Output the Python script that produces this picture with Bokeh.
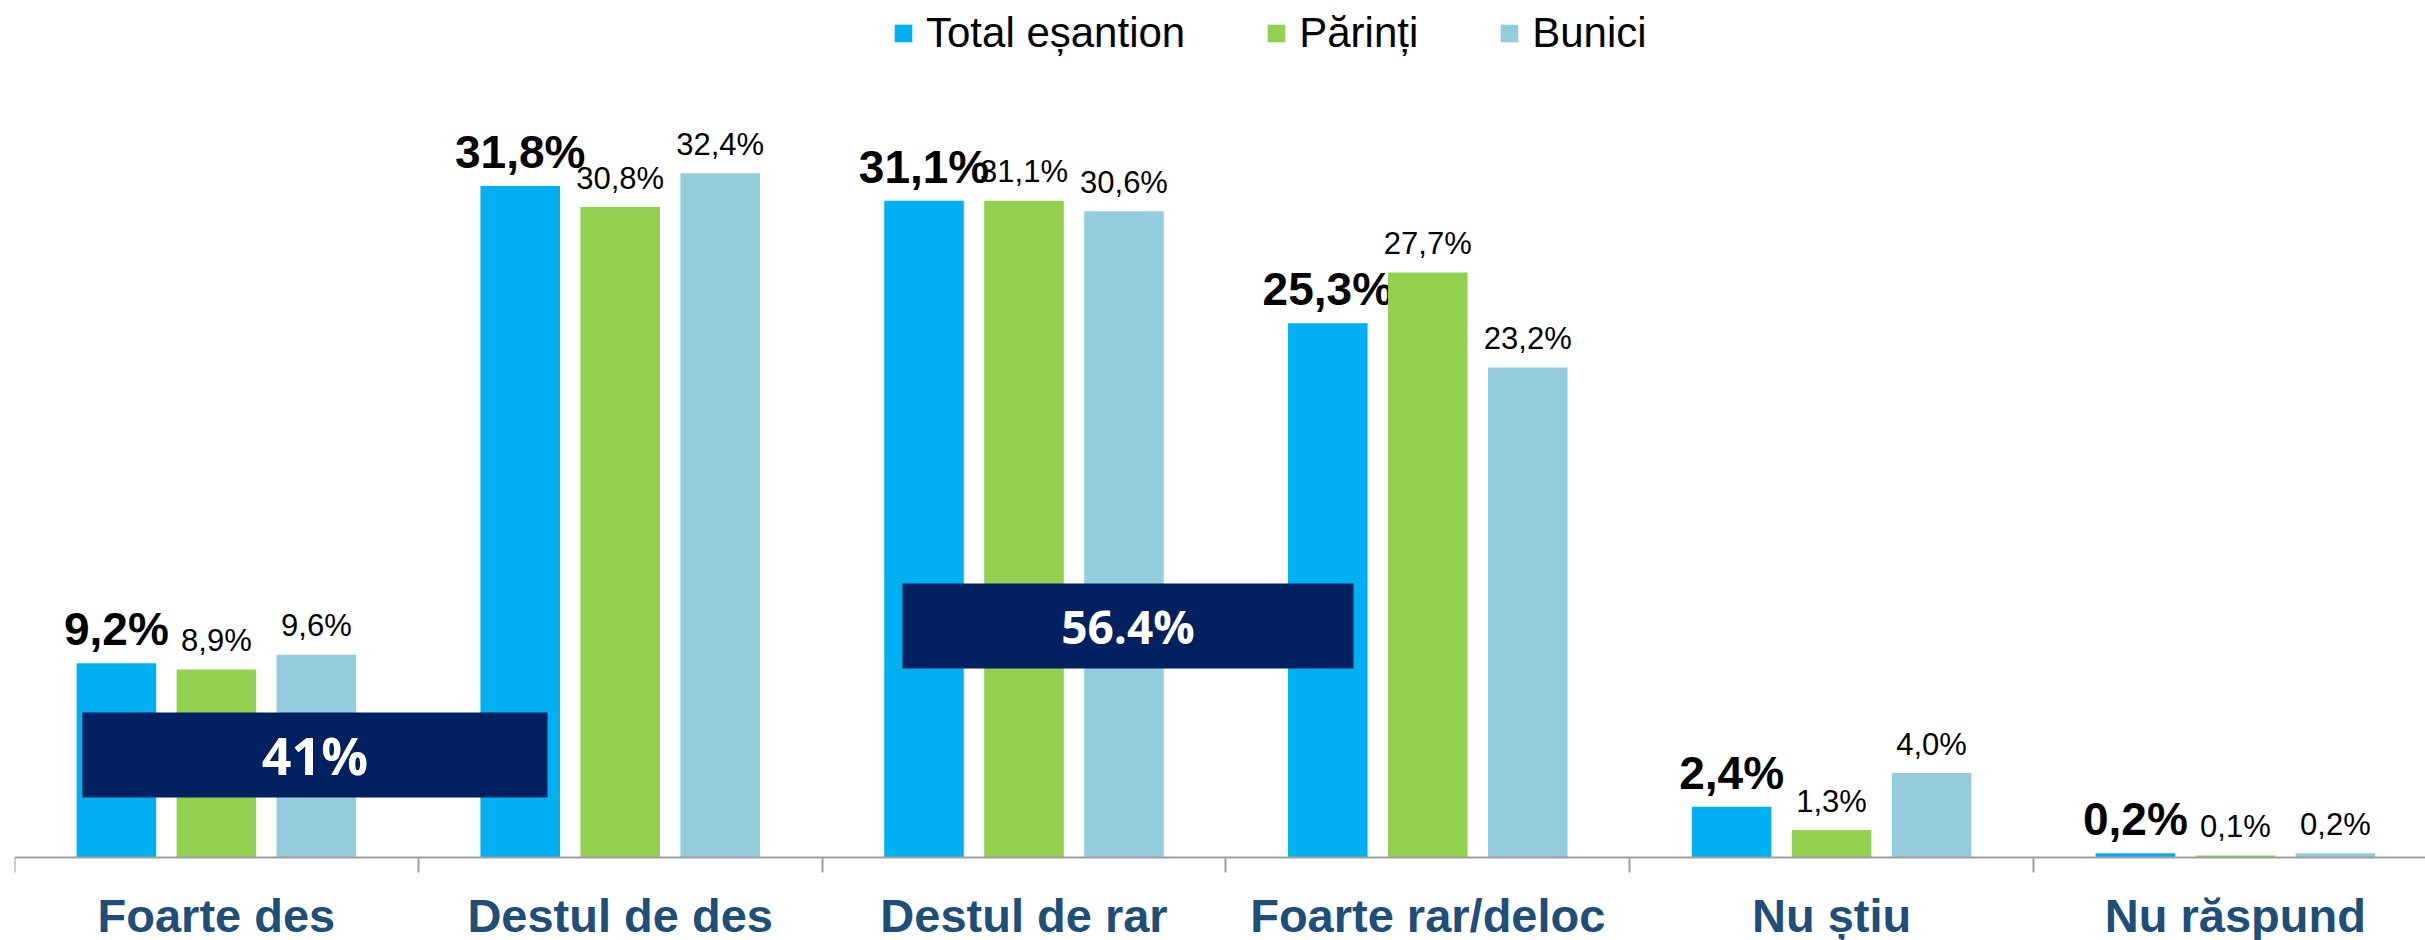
from bokeh.plotting import figure
from bokeh.models import (Range1d, FixedTicker, CustomJSTickFormatter, Legend, LegendItem,
                          BoxAnnotation, Label, ColumnDataSource)
from bokeh.core.properties import value
from bokeh.embed import file_html
from bokeh.resources import INLINE

categories = ["Foarte des", "Destul de des", "Destul de rar", "Foarte rar/deloc", "Nu știu", "Nu răspund"]
series_names = ["Total eșantion", "Părinți", "Bunici"]
total = [9.2, 31.8, 31.1, 25.3, 2.4, 0.2]
parinti = [8.9, 30.8, 31.1, 27.7, 1.3, 0.1]
bunici = [9.6, 32.4, 30.6, 23.2, 4.0, 0.2]
colors = ["#00B0F0", "#92D050", "#93CDDD"]
summary_labels = ["41%", "56.4%"]

def fmt(v):
    return ("%.1f" % v).replace(".", ",") + "%"

W, H = 2425, 940
PX_PER_CAT = 403.8
PX_PER_PCT = 21.12
LEFT = 14
AXIS_Y = 857   # canvas pixel row of the category axis line
frame_w = W - LEFT

p = figure(width=W, height=H, output_backend="svg", toolbar_location=None,
           x_range=Range1d(0, frame_w / PX_PER_CAT),
           y_range=Range1d(-(H - AXIS_Y) / PX_PER_PCT, AXIS_Y / PX_PER_PCT),
           min_border_left=LEFT, min_border_right=0, min_border_top=0, min_border_bottom=0)
p.outline_line_color = None
p.xgrid.visible = False
p.ygrid.visible = False
p.yaxis.visible = False
p.background_fill_color = "white"

n = len(categories)
centers = [i + 0.5 for i in range(n)]
offsets = [-0.2476, 0.0, 0.2476]
bar_w = 0.197
renderers = []
for k, vals in enumerate([total, parinti, bunici]):
    xs = [c + offsets[k] for c in centers]
    src = ColumnDataSource(dict(x=xs, top=vals, lab=[fmt(v) for v in vals]))
    r = p.vbar(x="x", top="top", width=bar_w, bottom=0, source=src,
               fill_color=colors[k], line_color=None)
    renderers.append(r)
    if k == 0:
        p.text(x="x", y="top", text="lab", source=src, text_align="center",
               text_baseline="alphabetic", y_offset=-34,
               text_font=value("Liberation Sans"), text_font_style="bold",
               text_font_size="46px", text_color="black")
    else:
        p.text(x="x", y="top", text="lab", source=src, text_align="center",
               text_baseline="alphabetic", y_offset=-29,
               text_font=value("Liberation Sans"), text_font_size="31px",
               text_color="black")

# summary boxes
boxes = [(0.168, 1.320, 2.84, 6.87, 52), (2.199, 3.316, 8.95, 12.97, 46)]
for (l, r_, b, t, fs), txt in zip(boxes, summary_labels):
    p.add_layout(BoxAnnotation(left=l, right=r_, bottom=b, top=t, fill_color="#002060",
                               fill_alpha=1.0, line_color=None))
    p.add_layout(Label(x=(l + r_) / 2, y=(b + t) / 2, text=txt, text_align="center",
                       text_baseline="middle", text_font="Open Sans", text_font_style="bold",
                       text_font_size="%dpx" % fs, text_color="white"))

ax = p.xaxis[0]
ax.fixed_location = 0
ax.ticker = FixedTicker(ticks=centers, minor_ticks=list(range(n + 1)))
ax.formatter = CustomJSTickFormatter(args=dict(labels=categories),
                                     code="return labels[Math.round(tick - 0.5)]")
ax.major_tick_out = 0
ax.major_tick_in = 0
ax.minor_tick_out = 15
ax.minor_tick_in = 0
ax.minor_tick_line_color = "#A0A0A0"
ax.minor_tick_line_width = 2
ax.axis_line_color = "#A0A0A0"
ax.axis_line_width = 2
ax.major_label_standoff = 16
ax.major_label_text_font = "Liberation Sans"
ax.major_label_text_font_style = "bold"
ax.major_label_text_font_size = "47px"
ax.major_label_text_color = "#1F4E79"

legend = Legend(items=[LegendItem(label=series_names[i], renderers=[renderers[i]]) for i in range(3)],
                orientation="horizontal", location=(878, 883),
                glyph_width=22, glyph_height=22, label_standoff=12, spacing=80,
                label_text_font="Liberation Sans", label_text_font_size="42px",
                label_text_color="black", padding=0, margin=0,
                border_line_color=None, background_fill_alpha=0)
p.add_layout(legend)

open("out.html", "w").write(file_html(p, INLINE))
